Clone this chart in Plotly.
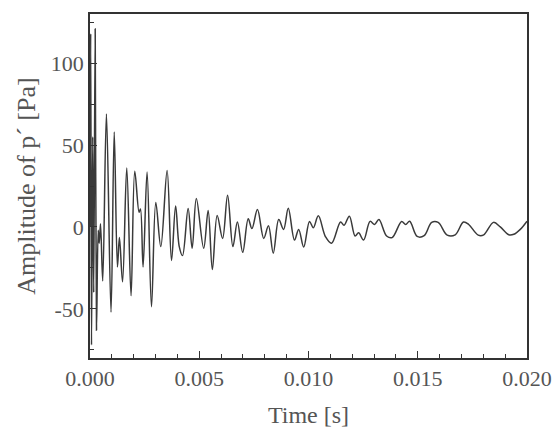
import plotly.graph_objects as go

# Time in milliseconds (converted to seconds below) and amplitude of p' in Pa
time_ms = [0.000, 0.032, 0.069, 0.124, 0.170, 0.238, 0.298, 0.376, 0.422, 0.481,
           0.582, 0.752, 0.962, 1.109, 1.256, 1.347, 1.490, 1.682, 1.879, 2.049,
           2.246, 2.310, 2.429, 2.612, 2.814, 3.011, 3.240, 3.529, 3.731, 3.918,
           4.085, 4.235, 4.491, 4.675, 4.867, 5.202, 5.408, 5.600, 5.820, 6.068,
           6.297, 6.540, 6.746, 6.989, 7.241, 7.411, 7.663, 7.951, 8.167, 8.387,
           8.639, 8.859, 9.074, 9.358, 9.551, 9.780, 10.046, 10.220, 10.449, 10.779,
           11.054, 11.467, 11.627, 11.870, 12.131, 12.292, 12.521, 12.819, 13.025, 13.222,
           13.575, 13.827, 14.262, 14.446, 14.629, 14.973, 15.294, 15.637, 15.935, 16.348,
           16.714, 17.095, 17.333, 17.768, 18.020, 18.469, 18.776, 19.166, 19.395, 19.693,
           20.000]
amplitude = [0, 118, -72, 55, -40, 121, -63, -2, -10, 2,
             -33, 69, -52, 58, -24.5, -6.5, -33.5, 36, -42, 34,
             9, 11, -24.5, 33.5, -48.7, 15, -12, 34.5, -20.5, 12.8,
             -12, -17.5, 11.2, -13, 17.3, -13, 10, -26, 7, -7,
             19.3, -12, 3, -15.5, 5, -1, 10.6, -7, 0.7, -16,
             4.5, -1.5, 11.4, -8, -1.5, -12.3, 3.3, -0.5, 6.8, -6,
             -10, 3, 1, 6.6, -5.5, -3.6, -8, 3.4, 1.5, 4.5,
             -5.5, -6.5, 3.3, 1.5, 3.5, -5.8, -5.3, 2.8, 2.8, -5,
             -4.8, 3, 1.5, -5, -4.8, 2.8, 0, -4.8, -4.5, -1.5,
             3.5]

y_tickvals = [-50, 0, 50, 100]
y_ticktext = ["-50", "0", "50", "100"]
x_tickvals = [0.000, 0.005, 0.010, 0.015, 0.020]
x_ticktext = ["0.000", "0.005", "0.010", "0.015", "0.020"]

time_s = [t / 1000.0 for t in time_ms]

fig = go.Figure()
fig.add_trace(go.Scatter(
    x=time_s, y=amplitude, mode="lines",
    line=dict(color="#3a3a3a", width=1.5, shape="spline", smoothing=1.0),
    showlegend=False,
))

font_family = "Liberation Serif"
txt_color = "#555555"
axis_color = "#333333"

fig.update_layout(
    width=557, height=439,
    margin=dict(l=90, r=30, t=14, b=81),
    paper_bgcolor="white", plot_bgcolor="white",
    font=dict(family=font_family, size=22, color=txt_color),
    xaxis=dict(
        range=[0, 0.02], tickvals=x_tickvals, ticktext=x_ticktext,
        ticks="inside", ticklen=7, tickwidth=1.2, tickcolor=axis_color,
        showline=True, linecolor=axis_color, linewidth=1.5, mirror=True,
        showgrid=False, zeroline=False, automargin=False,
        minor=dict(dtick=0.001, tick0=0, ticks="inside", ticklen=4, tickcolor=axis_color, showgrid=False),
        title=dict(text="Time [s]", font=dict(family=font_family, size=24, color=txt_color), standoff=16),
        tickfont=dict(family=font_family, size=22, color=txt_color),
    ),
    yaxis=dict(
        range=[-80, 130], tickvals=y_tickvals, ticktext=y_ticktext,
        ticks="inside", ticklen=7, tickwidth=1.2, tickcolor=axis_color,
        showline=True, linecolor=axis_color, linewidth=1.5, mirror=True,
        showgrid=False, zeroline=False, automargin=False,
        minor=dict(tickvals=[-75, -25, 25, 75, 125], ticks="inside", ticklen=4, tickcolor=axis_color, showgrid=False),
        title=dict(text="Amplitude of p\u00b4 [Pa]", font=dict(family=font_family, size=26, color=txt_color), standoff=8),
        tickfont=dict(family=font_family, size=22, color=txt_color),
    ),
)

fig.write_html("out.html")
